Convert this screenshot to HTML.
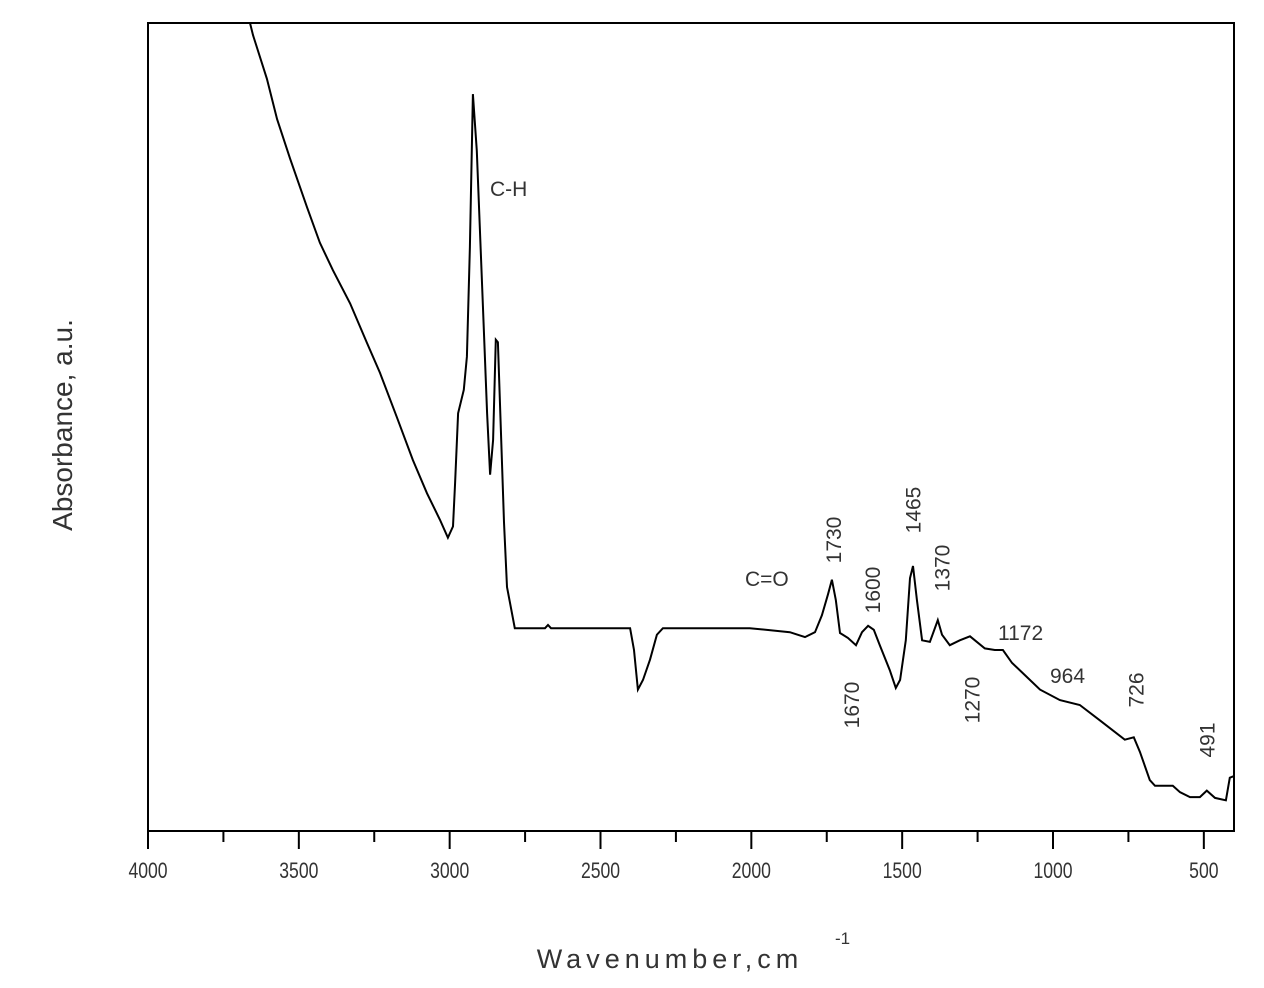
<!DOCTYPE html>
<html><head><meta charset="utf-8"><style>
html,body{margin:0;padding:0;background:#fff;width:1264px;height:988px;overflow:hidden}
svg text{font-family:"Liberation Sans",sans-serif;fill:#333}
</style></head><body>
<svg id="chart" width="1264" height="988" viewBox="0 0 1264 988" xmlns="http://www.w3.org/2000/svg">
<g id="axes"></g>
<path id="spectrum" fill="none" stroke="#000" stroke-width="2" stroke-linejoin="miter"></path>
<g id="annotations"></g>
<text x="670" y="968" font-size="27" text-anchor="middle" letter-spacing="5" fill="#444">Wavenumber,cm</text>
<text x="835" y="944" font-size="17" fill="#444">-1</text>
<text transform="translate(72,425) rotate(-90)" font-size="28" text-anchor="middle" fill="#444">Absorbance, a.u.</text>
</svg>
<script>
const wavenumbers=[3662,3652,3606,3572,3529,3473,3430,3387,3330,3274,3231,3175,3122,3075,3032,3006,2989,2982,2972,2953,2943,2933,2923,2910,2890,2876,2866,2856,2847,2840,2820,2810,2784,2684,2674,2664,2402,2389,2376,2359,2336,2313,2293,2005,1872,1822,1789,1766,1746,1733,1720,1706,1680,1653,1633,1613,1594,1574,1541,1521,1507,1488,1474,1464,1451,1434,1408,1382,1368,1342,1309,1275,1226,1193,1166,1136,1093,1043,977,911,845,762,732,712,679,662,603,579,546,513,490,463,427,414,400];
const absorbance=[100.0,98.5,93.1,88.1,83.2,77.2,72.8,69.4,65.3,60.4,56.7,51.2,45.9,41.8,38.5,36.3,37.7,43.1,51.7,54.6,58.7,72.3,91.2,84.2,65.0,51.7,44.1,48.4,60.8,60.5,38.2,30.2,25.1,25.1,25.5,25.1,25.1,22.4,17.5,18.7,21.2,24.3,25.1,25.1,24.6,24.0,24.6,26.7,29.3,31.1,28.6,24.5,23.9,23.0,24.6,25.4,24.9,23.0,19.9,17.7,18.7,23.6,31.3,32.8,28.6,23.6,23.4,26.1,24.3,23.0,23.6,24.1,22.6,22.4,22.4,20.8,19.3,17.5,16.2,15.6,13.7,11.3,11.6,9.8,6.3,5.6,5.6,4.8,4.2,4.2,5.0,4.1,3.8,6.6,6.8];
const xTicks=[4000,3500,3000,2500,2000,1500,1000,500];
const xMinorTicks=[3750,3250,2750,2250,1750,1250,750];
const peakLabels=["1730","1600","1465","1370","1670","1270","726","491"];
const peakLabelWn=[1730,1600,1465,1370,1670,1270,726,491];

const L=148,R=1234,T=23,B=831;
const XMAX=4000,XMIN=400;
const xs=w=>L+(XMAX-w)/(XMAX-XMIN)*(R-L);
const ys=v=>B-v/100*(B-T);
const NS="http://www.w3.org/2000/svg";
function mk(tag,attrs,parent){const e=document.createElementNS(NS,tag);for(const k in attrs)e.setAttribute(k,attrs[k]);parent.appendChild(e);return e;}

const axes=document.getElementById('axes');
const frame=mk('rect',{x:L,y:T,width:R-L,height:B-T,fill:'none',stroke:'#000','stroke-width':2},axes);


xTicks.forEach(t=>{
  const x=xs(t);
  const tk=mk('line',{x1:x,x2:x,y1:B,y2:B+18,stroke:'#000','stroke-width':2},axes);
  
  
  const lb=mk('text',{x:0,y:0,'font-size':22,'text-anchor':'middle',transform:`translate(${x},878) scale(0.8,1)`,fill:'#333'},axes);
  lb.textContent=t;
  
  
});
xMinorTicks.forEach(t=>{
  const x=xs(t);
  const tk=mk('line',{x1:x,x2:x,y1:B,y2:B+11,stroke:'#000','stroke-width':2},axes);
  
  
});

let d='';
wavenumbers.forEach((w,i)=>{d+=(i?'L':'M')+xs(w).toFixed(1)+','+ys(absorbance[i]).toFixed(1);});
document.getElementById('spectrum').setAttribute('d',d);

const ann=document.getElementById('annotations');
function hlabel(txt,x,y,name){const t=mk('text',{x:x,y:y,'font-size':21,fill:'#444'},ann);t.textContent=txt;}
hlabel('C-H',490,196,'ch-label');
hlabel('C=O',745,586,'co-label');
hlabel('1172',998,640,'peak-label-1172');
hlabel('964',1050,683,'peak-label-964');
const rotY=[540,590,510,568,705,700,690,740];
peakLabels.forEach((s,i)=>{
  const x=xs(peakLabelWn[i])+8;
  const t=mk('text',{transform:`translate(${x},${rotY[i]}) rotate(-90)`,'font-size':21,'text-anchor':'middle',fill:'#444'},ann);
  t.textContent=s;
  
  
});
</script>
</body></html>
